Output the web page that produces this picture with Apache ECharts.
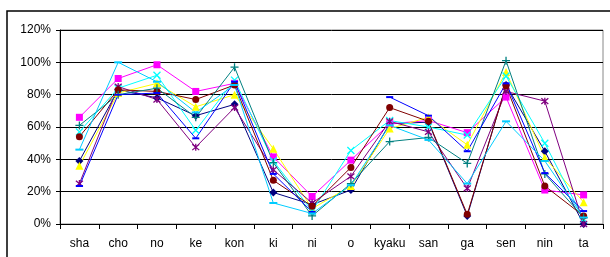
<!DOCTYPE html>
<html>
<head>
<meta charset="utf-8">
<script src="https://cdn.jsdelivr.net/npm/echarts@6/dist/echarts.min.js"></script>
<style>
  html, body { margin: 0; padding: 0; background: #fff; }
  #chart { width: 610px; height: 257px; }
</style>
</head>
<body>
<div id="chart"></div>
<script>
// categories (syllables) and y ticks
var categories = ['sha', 'cho', 'no', 'ke', 'kon', 'ki', 'ni', 'o', 'kyaku', 'san', 'ga', 'sen', 'nin', 'ta']
var yTicks = [0, 20, 40, 60, 80, 100, 120]

// series values in %
var navyDiamond   = [39, 83, 78, 67, 74, 19.5, 12, 21, 62, 63, 5, 86, 45, 0]
var magentaSquare = [66, 90, 98.5, 82, 87, 41.5, 17, 39.5, 62, 64, 56.5, 78.5, 21, 18]
var yellowTri     = [36, 81, 87, 72.5, 80, 46.5, 9.5, 23.5, 59, 66, 49, 94, 41, 13.5]
var cyanCross     = [57, 84, 92, 58, 89, 39, 8, 45.5, 64, 60, 55, 91.5, 50, 3]
var purpleStar    = [25, 85, 77, 47.5, 72, 33.5, 13, 29.5, 63.5, 57, 22, 82, 76, 0]
var maroonCircle  = [54, 83, 82, 77, 86, 27, 11, 35, 72, 63.5, 6, 85.5, 23.5, 5]
var tealPlus      = [61, 80, 84, 66, 97, 38, 5, 25, 51, 53.5, 37.5, 101, 31, 4]
var blueDash      = [23.5, 80, 81, 53, 88, 31, 7.5, null, 78.5, 67, 45, 87, 31.5, 8]
var skyDash       = [46, 100, 88, 69, 86, 13, 6.5, 24, 61, 52, 25, 63.5, 39, 4]

var X_PATH = 'path://M0,0L10,10M10,0L0,10'
var STAR_PATH = 'path://M0,0L10,10M10,0L0,10M5,-1L5,11'
var PLUS_PATH = 'path://M5,0L5,10M0,5L10,5'

function filled(name, data, color, symbol, size) {
  return {
    name: name, type: 'line', data: data,
    symbol: symbol, symbolSize: size,
    lineStyle: { color: color, width: 1 },
    itemStyle: { color: color },
    emphasis: { disabled: true }
  }
}
function stroked(name, data, color, symbol, size) {
  return {
    name: name, type: 'line', data: data,
    symbol: symbol, symbolSize: size,
    lineStyle: { color: color, width: 1 },
    itemStyle: { color: 'none', borderColor: color, borderWidth: 1.3 },
    emphasis: { disabled: true }
  }
}

var chart = echarts.init(document.getElementById('chart'))
chart.setOption({
  animation: false,
  textStyle: { fontFamily: 'Liberation Sans, Arial, sans-serif' },
  graphic: [{
    type: 'rect',
    shape: { x: 7, y: 11, width: 620, height: 260 },
    style: { fill: 'none', stroke: '#000', lineWidth: 1.5 },
    silent: true
  }],
  grid: {
    left: 60, right: 7, top: 30, bottom: 33,
    show: true, borderColor: '#888', borderWidth: 1
  },
  xAxis: {
    type: 'category',
    data: categories,
    boundaryGap: true,
    axisLine: { lineStyle: { color: '#000', width: 1 } },
    axisTick: { show: true, length: 5, lineStyle: { color: '#000' } },
    axisLabel: { color: '#000', fontSize: 12, margin: 14, interval: 0 }
  },
  yAxis: {
    type: 'value',
    min: 0, max: 120, interval: 20,
    axisLine: { show: true, lineStyle: { color: '#000', width: 1 } },
    axisTick: { show: true, length: 4, lineStyle: { color: '#000' } },
    axisLabel: {
      color: '#000', fontSize: 12, margin: 9,
      formatter: function (v) { return yTicks.indexOf(v) >= 0 ? v + '%' : '' }
    },
    splitLine: { show: true, lineStyle: { color: '#000', width: 1 } }
  },
  series: [
    filled('s1', navyDiamond, '#000080', 'diamond', 8),
    filled('s2', magentaSquare, '#FF00FF', 'rect', 7),
    filled('s3', yellowTri, '#FFFF00', 'triangle', 8),
    stroked('s4', cyanCross, '#00FFFF', X_PATH, 7),
    stroked('s5', purpleStar, '#800080', STAR_PATH, 7),
    filled('s6', maroonCircle, '#800000', 'circle', 7),
    stroked('s7', tealPlus, '#008080', PLUS_PATH, 8),
    filled('s8', blueDash, '#0000FF', 'rect', [7, 2]),
    filled('s9', skyDash, '#00CCFF', 'rect', [8, 2])
  ]
})
</script>
</body>
</html>
